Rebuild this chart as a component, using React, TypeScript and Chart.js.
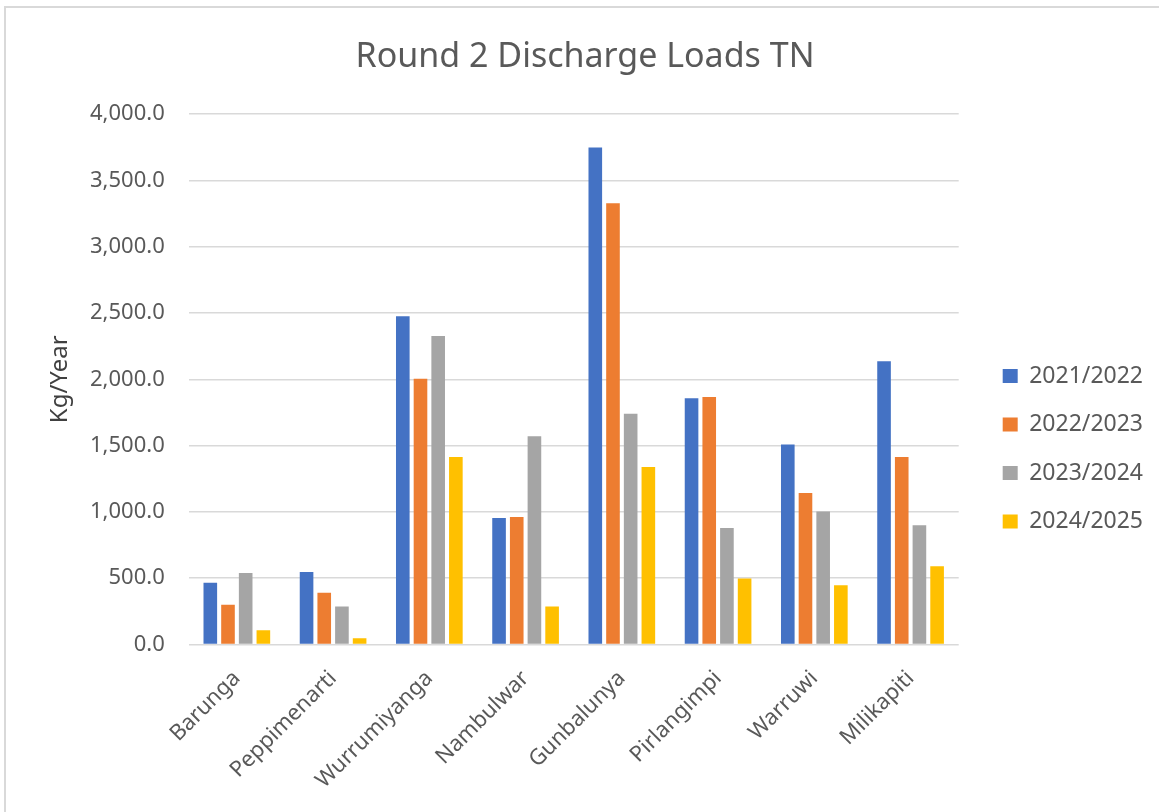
import React, { useEffect, useRef } from "react";
import { Chart, registerables } from "chart.js";

Chart.register(...registerables);

const categories = [
  "Barunga",
  "Peppimenarti",
  "Wurrumiyanga",
  "Nambulwar",
  "Gunbalunya",
  "Pirlangimpi",
  "Warruwi",
  "Milikapiti",
];
const seriesLabels = ["2021/2022", "2022/2023", "2023/2024", "2024/2025"];
const s2021_2022 = [466, 547, 2475, 954, 3747, 1856, 1508, 2136];
const s2022_2023 = [299, 391, 2004, 962, 3327, 1867, 1142, 1414];
const s2023_2024 = [539, 286, 2327, 1570, 1740, 878, 1002, 900];
const s2024_2025 = [108, 48, 1414, 286, 1339, 498, 447, 590];
const yMin = 0;
const yMax = 4000;
const yStep = 500;
const seriesColors = ["#4472C4", "#ED7D31", "#A5A5A5", "#FFC000"];

const FONT = "'Noto Sans', 'DejaVu Sans', sans-serif";

export default function App() {
  const ref = useRef<HTMLCanvasElement | null>(null);

  useEffect(() => {
    if (!ref.current) return;
    const values = [s2021_2022, s2022_2023, s2023_2024, s2024_2025];
    const chart = new Chart(ref.current, {
      type: "bar",
      data: {
        labels: categories,
        datasets: seriesLabels.map((label, i) => ({
          label,
          data: values[i],
          backgroundColor: seriesColors[i],
          borderWidth: 0,
          categoryPercentage: 0.735,
          barPercentage: 0.77,
          yAxisID: "y",
        })),
      },
      options: {
        responsive: false,
        animation: false,
        devicePixelRatio: 1,
        layout: { padding: { left: 17, right: 6, top: 0, bottom: 17.5 } },
        plugins: {
          title: {
            display: true,
            text: "Round 2 Discharge Loads TN",
            color: "#595959",
            font: { family: FONT, size: 34, weight: "normal" },
            padding: { top: 36.6, bottom: 36.6 },
          },
          legend: {
            position: "right",
            align: "center",
            title: {
              display: true,
              text: " ",
              font: { family: FONT, size: 10, lineHeight: 1 },
              padding: { top: 93, bottom: 0 },
            },
            labels: {
              color: "#595959",
              font: { family: FONT, size: 23 },
              boxWidth: 15,
              boxHeight: 14,
              padding: 25.5,
            },
          },
          tooltip: { enabled: false },
        },
        scales: {
          x: {
            grid: { display: false, drawTicks: false },
            border: { display: false },
            ticks: {
              color: "#595959",
              font: { family: FONT, size: 22 },
              minRotation: 45,
              maxRotation: 45,
              autoSkip: false,
              padding: 21,
            },
            afterFit: (s: any) => {
              s.height = 150;
            },
          },
          y: {
            min: yMin,
            max: yMax,
            grid: { color: "#d9d9d9", lineWidth: 1.5, drawTicks: false },
            border: { display: false },
            ticks: {
              stepSize: yStep,
              color: "#595959",
              font: { family: FONT, size: 22 },
              padding: 24,
              callback: (v: any) =>
                Number(v).toLocaleString("en-US", {
                  minimumFractionDigits: 1,
                  maximumFractionDigits: 1,
                }),
            },
            title: {
              display: true,
              text: "Kg/Year",
              color: "#404040",
              font: { family: FONT, size: 24, lineHeight: 0.5 },
              padding: { top: 37, bottom: 0 },
            },
          },
          ySpacer: {
            type: "linear",
            position: "right",
            display: true,
            grid: { display: false, drawTicks: false },
            border: { display: false },
            ticks: { display: false },
            afterFit: (s: any) => {
              s.width = 18.5;
            },
          },
        },
      },
    });
    return () => chart.destroy();
  }, []);

  return (
    <div
      style={{
        position: "fixed",
        left: 0,
        top: 0,
        width: 1159,
        height: 812,
        overflow: "hidden",
        background: "#ffffff",
      }}
    >
      <div
        style={{
          position: "absolute",
          left: 4,
          top: 6,
          width: 1300,
          height: 1000,
          border: "2px solid #d9d9d9",
          boxSizing: "border-box",
        }}
      />
      <canvas
        ref={ref}
        width={1159}
        height={812}
        style={{ position: "absolute", left: 0, top: 0, width: 1159, height: 812 }}
      />
    </div>
  );
}
